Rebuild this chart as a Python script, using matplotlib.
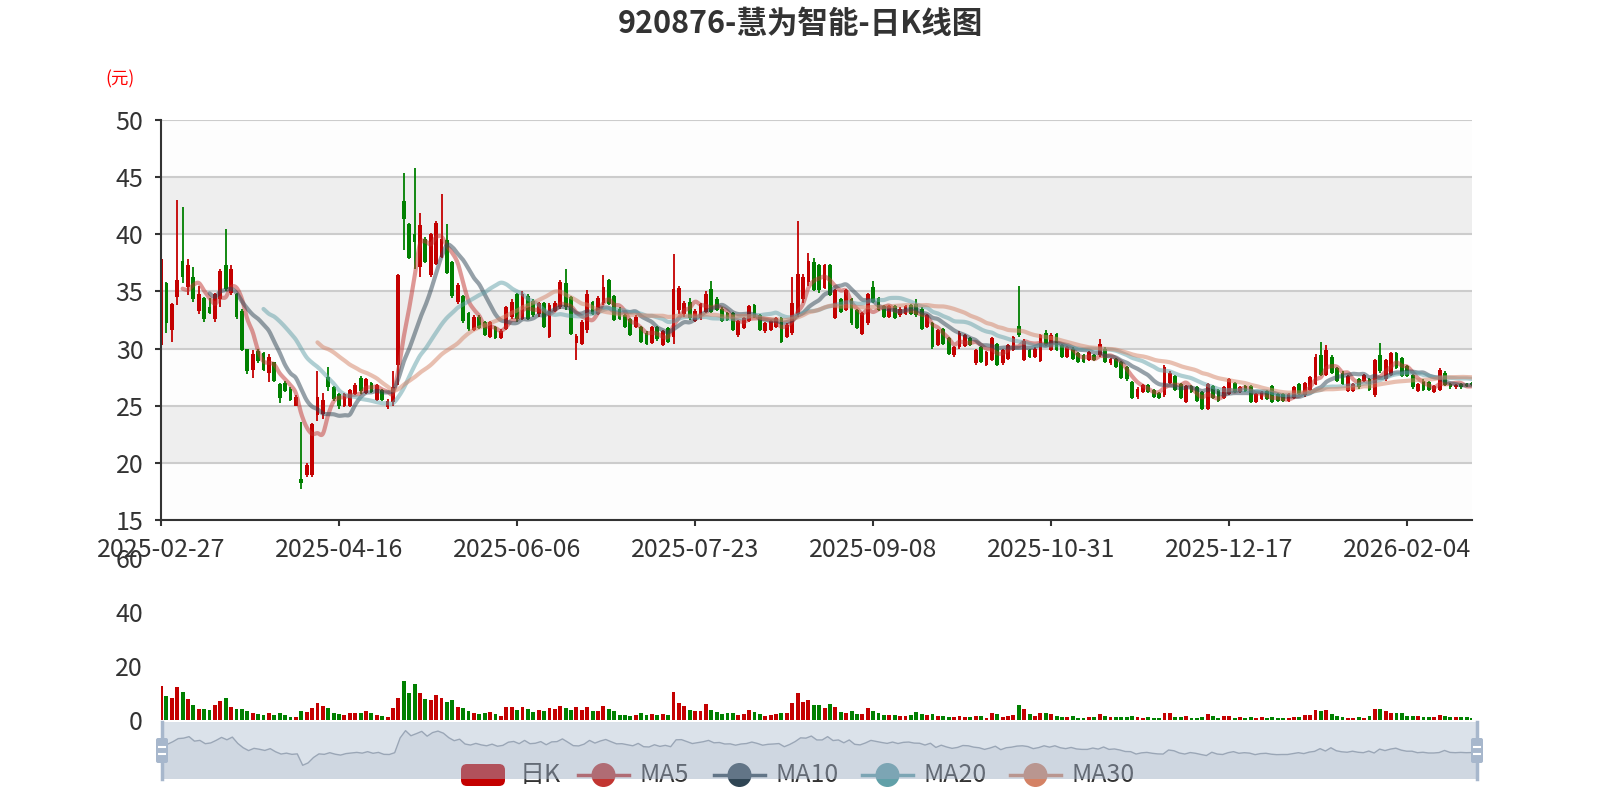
import numpy as np
import pandas as pd
import matplotlib
matplotlib.use('Agg')
import matplotlib.pyplot as plt
from matplotlib.patches import FancyBboxPatch, Circle

plt.rcParams['font.family'] = ['Noto Sans CJK SC', 'DejaVu Sans']

title = '920876-慧为智能-日K线图'

# exchange holidays falling on weekdays (used to build the trading-day axis)
holidays = ['2025-04-04', '2025-05-01', '2025-05-02', '2025-05-05', '2025-06-02',
            '2025-10-01', '2025-10-02', '2025-10-03', '2025-10-06', '2025-10-07',
            '2025-10-08', '2026-01-01', '2026-01-02', '2026-02-16', '2026-02-17',
            '2026-02-18', '2026-02-19', '2026-02-20', '2026-02-23']

opens = [30.3, 35.7, 31.6, 34.5, 37.7, 35.4, 36.3, 33.3, 34.4, 33.6, 32.6, 34.3, 37.3, 34.9, 34.8, 33.3, 30.0, 28.1, 29.8, 29.6,
         27.9, 28.8, 26.9, 27.0, 26.5, 25.0, 18.6, 18.9, 18.9, 24.2, 24.3, 27.5, 26.6, 26.0, 25.0, 25.0, 26.0, 27.4, 26.1, 27.0,
         25.5, 26.4, 24.9, 25.3, 28.6, 42.9, 40.9, 40.0, 37.1, 39.6, 36.4, 37.4, 38.0, 39.5, 37.6, 34.1, 34.6, 33.1, 31.6, 32.8,
         32.3, 31.0, 31.9, 30.9, 31.7, 32.8, 34.8, 32.6, 34.6, 34.2, 33.0, 34.0, 31.0, 33.3, 33.6, 35.7, 34.5, 30.5, 30.4, 31.6,
         34.1, 33.0, 34.0, 36.0, 34.6, 33.5, 32.9, 32.6, 31.9, 31.9, 31.4, 30.5, 31.9, 30.3, 31.8, 31.0, 33.4, 33.0, 34.1, 32.4,
         32.7, 33.2, 35.2, 34.3, 33.5, 33.1, 33.1, 31.2, 31.8, 32.4, 33.8, 32.9, 31.5, 31.6, 31.9, 32.7, 31.0, 31.4, 33.0, 34.3,
         35.8, 37.6, 37.3, 35.3, 37.3, 32.7, 34.3, 33.4, 34.3, 33.4, 31.3, 32.2, 35.4, 34.4, 33.7, 32.8, 33.7, 32.9, 33.0, 33.8,
         33.9, 33.5, 31.9, 32.2, 30.3, 31.7, 30.9, 29.4, 30.1, 30.2, 30.9, 28.7, 30.1, 28.6, 29.0, 30.4, 28.7, 29.1, 29.9, 32.0,
         29.0, 29.9, 29.3, 28.9, 31.4, 29.9, 31.3, 30.3, 29.3, 30.0, 29.6, 29.4, 29.0, 29.4, 29.4, 30.0, 28.7, 29.1, 28.8, 28.4,
         27.1, 25.8, 26.2, 26.8, 26.4, 26.1, 25.9, 27.0, 27.6, 26.9, 25.3, 26.7, 26.6, 26.2, 24.7, 26.7, 26.4, 25.7, 26.0, 27.0,
         26.2, 26.7, 26.7, 25.3, 25.6, 26.3, 26.7, 26.0, 26.0, 25.4, 25.7, 26.9, 25.9, 26.4, 26.9, 29.4, 27.7, 29.3, 28.3, 27.9,
         26.3, 26.3, 27.3, 27.2, 27.3, 25.9, 29.4, 27.3, 27.7, 29.6, 29.2, 28.5, 27.7, 26.3, 27.2, 27.1, 26.2, 26.4, 27.9, 26.9,
         26.6, 26.9, 26.9, 27.0]
closes = [37.8, 32.2, 33.9, 36.0, 36.3, 37.3, 34.3, 34.8, 32.6, 33.1, 34.8, 36.8, 35.2, 37.0, 32.8, 29.9, 28.0, 29.5, 28.9, 28.1,
          29.3, 27.2, 25.7, 26.3, 25.5, 25.8, 18.2, 19.8, 23.4, 25.8, 25.5, 26.6, 25.6, 25.0, 26.0, 26.4, 26.8, 26.3, 27.3, 26.2,
          26.8, 25.5, 25.4, 26.6, 36.4, 41.3, 37.9, 39.3, 40.8, 37.6, 40.0, 41.0, 39.6, 36.6, 34.6, 35.6, 32.4, 31.7, 32.8, 31.8,
          31.2, 32.3, 30.9, 31.5, 33.6, 34.1, 32.6, 34.8, 32.6, 32.9, 34.0, 31.9, 33.8, 34.0, 35.8, 33.6, 31.3, 31.1, 32.3, 34.8,
          33.0, 34.4, 35.4, 33.9, 32.5, 32.6, 31.9, 31.2, 32.8, 30.6, 30.4, 31.9, 30.8, 31.5, 30.6, 35.2, 35.3, 34.0, 32.7, 33.3,
          33.9, 34.8, 33.2, 33.4, 32.4, 32.5, 31.6, 32.4, 32.7, 33.7, 32.8, 31.6, 32.2, 32.4, 32.7, 30.6, 32.1, 34.0, 36.5, 36.3,
          37.7, 35.1, 35.1, 37.3, 34.7, 35.1, 33.2, 35.1, 32.2, 31.8, 33.1, 34.8, 34.1, 33.4, 32.8, 33.7, 32.7, 33.5, 33.7, 33.0,
          32.9, 31.7, 32.9, 30.1, 31.6, 30.4, 29.5, 30.1, 31.4, 31.2, 30.3, 29.9, 28.8, 29.7, 30.9, 28.6, 29.9, 30.3, 31.0, 31.2,
          30.7, 29.3, 30.0, 31.2, 30.3, 31.2, 29.9, 29.3, 30.1, 29.1, 28.8, 28.8, 29.7, 29.0, 30.4, 28.8, 29.1, 28.4, 27.4, 27.3,
          25.7, 26.5, 26.8, 26.2, 25.8, 25.7, 28.4, 27.9, 26.4, 25.7, 26.7, 26.2, 25.4, 24.7, 26.9, 25.7, 25.4, 26.6, 27.3, 26.2,
          26.6, 26.3, 25.3, 26.0, 26.2, 25.6, 25.3, 25.4, 25.4, 26.0, 26.6, 26.0, 27.0, 27.5, 29.3, 27.7, 29.9, 27.9, 27.2, 26.9,
          27.6, 26.9, 26.6, 27.7, 26.4, 29.0, 28.0, 29.0, 29.6, 28.3, 27.6, 27.6, 26.6, 26.9, 26.4, 26.4, 26.7, 28.1, 26.8, 26.6,
          26.8, 26.6, 26.7, 26.8]
highs = [40.0, 35.8, 34.0, 43.0, 42.4, 37.8, 37.1, 35.5, 34.5, 34.4, 34.9, 37.0, 40.5, 37.3, 34.9, 33.5, 30.0, 29.9, 30.0, 29.7,
         29.5, 28.8, 27.0, 27.2, 26.6, 25.9, 23.6, 20.0, 23.5, 28.0, 26.1, 28.4, 26.7, 26.1, 26.1, 26.5, 27.0, 27.6, 27.4, 27.1,
         26.9, 26.5, 25.6, 28.0, 36.5, 45.4, 41.0, 45.8, 41.9, 39.8, 40.1, 41.2, 43.5, 40.9, 37.7, 35.7, 34.7, 33.2, 32.9, 32.9,
         32.4, 32.4, 32.0, 31.7, 33.7, 34.3, 34.9, 35.0, 34.8, 34.3, 34.1, 34.1, 34.0, 34.2, 36.0, 37.0, 34.6, 31.3, 32.5, 35.1,
         34.2, 34.6, 36.4, 36.1, 34.7, 33.6, 33.0, 32.7, 32.9, 32.0, 31.5, 32.0, 32.0, 31.6, 31.9, 38.3, 35.5, 34.2, 34.4, 33.5,
         34.0, 35.0, 35.9, 34.5, 33.6, 33.2, 33.2, 32.5, 32.8, 33.8, 33.9, 33.0, 32.3, 32.5, 32.8, 32.8, 32.2, 36.3, 41.2, 36.5,
         38.4, 37.9, 37.4, 37.4, 37.4, 35.2, 34.4, 35.2, 34.4, 33.5, 33.2, 34.9, 35.9, 34.5, 33.8, 33.8, 33.8, 33.6, 33.8, 33.9,
         34.3, 33.6, 33.0, 32.3, 31.7, 31.8, 31.0, 30.2, 31.5, 31.3, 31.0, 30.0, 30.2, 29.8, 31.0, 30.5, 30.0, 30.4, 31.1, 35.5,
         30.8, 30.0, 30.1, 31.3, 31.6, 31.4, 31.4, 30.4, 30.2, 30.1, 29.7, 29.5, 29.8, 29.5, 30.8, 30.1, 29.2, 29.2, 28.9, 28.5,
         27.2, 26.6, 26.9, 26.9, 26.5, 26.2, 28.6, 28.0, 27.7, 27.0, 26.8, 26.8, 26.7, 26.3, 27.0, 26.8, 26.5, 26.7, 27.4, 27.1,
         26.7, 26.8, 26.8, 26.1, 26.3, 26.4, 26.8, 26.1, 26.1, 26.1, 26.7, 27.0, 27.1, 27.6, 29.5, 30.6, 30.3, 29.4, 28.4, 28.0,
         27.7, 27.0, 27.4, 27.8, 27.4, 29.1, 30.5, 29.1, 29.7, 29.7, 29.3, 28.6, 27.8, 27.0, 27.3, 27.2, 26.8, 28.3, 28.0, 27.0,
         26.9, 27.0, 27.0, 27.1]
lows = [30.0, 31.4, 30.6, 33.8, 35.7, 34.7, 34.1, 33.0, 32.3, 33.0, 32.3, 33.6, 35.0, 34.7, 32.6, 29.8, 27.8, 27.4, 28.7, 28.0,
        27.1, 27.1, 25.2, 26.2, 25.4, 25.0, 17.7, 18.8, 18.8, 23.7, 23.8, 26.3, 25.4, 24.7, 24.9, 24.9, 25.9, 26.0, 26.0, 26.1,
        25.4, 25.4, 24.7, 25.0, 26.8, 38.6, 37.8, 37.0, 36.3, 37.5, 36.3, 37.3, 37.9, 36.5, 34.4, 33.9, 32.2, 31.5, 31.5, 31.7,
        31.1, 30.9, 30.8, 30.8, 31.6, 32.6, 32.3, 32.5, 32.5, 32.8, 32.8, 31.8, 30.9, 33.2, 33.5, 33.4, 31.2, 29.0, 30.3, 31.4,
        32.9, 32.9, 33.8, 33.8, 32.4, 32.5, 31.8, 31.1, 31.8, 30.5, 30.3, 30.4, 30.7, 30.2, 30.5, 30.4, 33.0, 32.8, 32.5, 32.3,
        32.5, 33.1, 33.1, 33.3, 32.3, 32.4, 31.5, 31.0, 31.7, 32.3, 32.7, 31.5, 31.4, 31.5, 31.8, 30.5, 30.9, 31.2, 32.8, 34.0,
        35.5, 35.0, 34.9, 35.2, 34.6, 32.6, 33.1, 33.3, 32.1, 31.7, 31.2, 32.1, 34.0, 33.3, 32.7, 32.7, 32.6, 32.8, 32.9, 32.9,
        32.8, 31.6, 31.8, 30.0, 30.2, 30.3, 29.4, 29.3, 30.0, 30.1, 30.2, 28.6, 28.7, 28.5, 28.9, 28.5, 28.6, 29.0, 29.8, 31.0,
        28.9, 29.2, 29.2, 28.8, 30.2, 29.8, 29.8, 29.2, 29.2, 29.0, 28.7, 28.7, 28.9, 28.9, 29.3, 28.7, 28.6, 28.3, 27.3, 27.2,
        25.6, 25.6, 26.1, 26.1, 25.7, 25.6, 25.8, 26.9, 26.3, 25.6, 25.2, 26.1, 25.3, 24.6, 24.6, 25.6, 25.3, 25.6, 25.9, 26.1,
        26.1, 26.2, 25.2, 25.2, 25.5, 25.5, 25.2, 25.3, 25.3, 25.3, 25.6, 25.9, 25.8, 26.3, 26.8, 27.6, 27.6, 27.8, 27.1, 26.8,
        26.2, 26.2, 26.5, 27.1, 26.3, 25.8, 27.9, 27.2, 27.6, 28.2, 27.5, 27.5, 26.5, 26.2, 26.3, 26.3, 26.1, 26.3, 26.7, 26.5,
        26.5, 26.5, 26.6, 26.7]
volumes = [12.6, 8.6, 8.0, 11.9, 10.4, 7.5, 5.4, 4.0, 3.8, 3.6, 5.4, 6.8, 7.9, 4.7, 3.8, 4.0, 3.0, 2.5, 1.9, 1.8,
           2.4, 1.6, 2.4, 1.8, 1.1, 1.1, 3.2, 2.8, 4.1, 6.1, 5.1, 4.4, 2.5, 2.0, 1.6, 2.4, 2.6, 2.4, 3.1, 2.3,
           1.8, 1.4, 1.1, 4.2, 8.0, 14.3, 9.7, 13.3, 9.7, 7.8, 7.2, 9.2, 8.0, 6.6, 7.4, 4.7, 4.4, 3.0, 2.5, 2.2,
           2.4, 2.8, 2.2, 1.4, 4.6, 4.6, 3.5, 4.6, 3.8, 2.8, 3.5, 3.2, 4.2, 3.8, 4.9, 4.4, 3.6, 4.6, 3.4, 4.8,
           3.2, 3.2, 5.0, 4.0, 3.0, 1.8, 1.8, 1.2, 1.8, 2.4, 1.8, 2.0, 1.6, 2.0, 1.6, 10.1, 6.2, 5.0, 3.6, 3.0,
           3.2, 5.7, 3.6, 2.9, 2.2, 2.4, 2.4, 1.6, 2.0, 3.6, 2.9, 2.0, 1.4, 1.7, 2.2, 2.5, 2.5, 6.3, 9.9, 6.5,
           7.2, 5.4, 5.4, 4.2, 5.7, 4.7, 2.9, 2.6, 3.0, 2.2, 2.2, 4.4, 3.1, 2.3, 1.7, 1.8, 1.8, 1.4, 1.4, 1.7,
           2.8, 1.9, 1.6, 2.2, 1.2, 1.2, 1.1, 1.0, 1.3, 1.1, 0.8, 1.2, 1.2, 0.7, 2.4, 2.2, 1.1, 1.4, 1.6, 5.4,
           4.0, 2.2, 1.4, 2.5, 2.5, 2.2, 1.3, 1.1, 1.1, 1.2, 0.7, 0.6, 1.0, 0.8, 2.2, 1.3, 0.8, 1.1, 1.1, 0.8,
           1.3, 1.0, 0.7, 1.0, 0.6, 0.6, 2.4, 2.4, 1.1, 1.0, 1.2, 0.7, 0.7, 1.0, 2.0, 1.2, 0.6, 1.2, 1.2, 0.7,
           0.8, 0.7, 1.0, 0.6, 0.8, 0.7, 0.8, 0.7, 0.7, 0.7, 1.0, 1.0, 1.6, 1.6, 3.6, 3.0, 3.5, 2.0, 1.2, 0.8,
           0.7, 0.7, 1.1, 0.7, 1.2, 3.8, 4.0, 3.0, 2.5, 2.5, 2.3, 1.2, 1.4, 1.2, 1.0, 0.8, 1.0, 1.8, 1.3, 1.1,
           0.8, 1.0, 0.8, 0.7]

ma_windows = [5, 10, 20, 30]
ma_names = ['MA5', 'MA10', 'MA20', 'MA30']
ma_colors = ['#c23531', '#2f4554', '#61a0a8', '#d48265']

up_color = '#c40000'
down_color = '#008000'

n = len(closes)
o = np.array(opens)
c = np.array(closes)
h = np.array(highs)
l = np.array(lows)
x = np.arange(n)


def smooth_line(xs, ys, steps=8):
    # Catmull-Rom pass through the points, like a smoothed line series
    xs = np.asarray(xs, float)
    ys = np.asarray(ys, float)
    px = np.concatenate([[xs[0]], xs, [xs[-1]]])
    py = np.concatenate([[ys[0]], ys, [ys[-1]]])
    out_x, out_y = [], []
    t = np.linspace(0, 1, steps, endpoint=False)
    for i in range(1, len(px) - 2):
        for arr, out in ((px, out_x), (py, out_y)):
            p0, p1, p2, p3 = arr[i - 1], arr[i], arr[i + 1], arr[i + 2]
            out.extend(0.5 * (2 * p1 + (-p0 + p2) * t + (2 * p0 - 5 * p1 + 4 * p2 - p3) * t ** 2
                              + (-p0 + 3 * p1 - 3 * p2 + p3) * t ** 3))
    out_x.append(xs[-1])
    out_y.append(ys[-1])
    return np.array(out_x), np.array(out_y)


# trading-day categories
days = [d for d in pd.bdate_range('2025-02-27', periods=300)
        if d.strftime('%Y-%m-%d') not in holidays][:n]
dates = [d.strftime('%Y-%m-%d') for d in days]
tick_idx = list(range(0, n - 1, 33))

fig = plt.figure(figsize=(16, 8), dpi=100)
fig.patch.set_facecolor('white')

# ---- main K-line panel
ax = fig.add_axes([161 / 1600, 1 - 520 / 800, 1311 / 1600, 400 / 800])
ax.set_xlim(0, n - 1)
ax.set_ylim(15, 50)
yt = np.arange(15, 51, 5)
for k in range(len(yt) - 1):
    ax.axhspan(yt[k], yt[k + 1], color='#fdfdfd' if k % 2 == 0 else '#eeeeee', lw=0, zorder=0)
for v in yt:
    ax.axhline(v, color='#cccccc', lw=1.5, zorder=1)

is_up = c >= o
cols = np.where(is_up, up_color, down_color)
ax.vlines(x, l, h, colors=cols, lw=1.3, zorder=3)
ax.bar(x, np.maximum(np.abs(c - o), 0.1), width=0.7, bottom=np.minimum(o, c),
       color=cols, lw=0, zorder=4)

close_s = pd.Series(closes)
for w, name, col in zip(ma_windows, ma_names, ma_colors):
    ma = close_s.rolling(w).mean()
    ok = ma.notna().values
    sx, sy = smooth_line(x[ok], ma.values[ok])
    ax.plot(sx, sy, color=col, lw=3, alpha=0.5, zorder=5, solid_capstyle='round')

ax.set_yticks(yt)
ax.set_xticks(tick_idx)
ax.set_xticklabels([dates[i] for i in tick_idx])
for s in ['top', 'right']:
    ax.spines[s].set_visible(False)
for s in ['left', 'bottom']:
    ax.spines[s].set_color('#333333')
    ax.spines[s].set_linewidth(1.5)
    ax.spines[s].set_zorder(6)
ax.tick_params(axis='both', length=4.5, width=1.5, color='#333333', labelcolor='#333333',
               labelsize=18, pad=8)

# ---- volume panel
vax = fig.add_axes([161 / 1600, 1 - 719.5 / 800, 1311 / 1600, 161.5 / 800])
vax.set_xlim(0, n - 1)
vax.set_ylim(0, 60)
vax.bar(x, volumes, width=0.72, color=cols, lw=0)
vax.set_yticks([0, 20, 40, 60])
vax.set_xticks([])
for s in vax.spines.values():
    s.set_visible(False)
vax.patch.set_alpha(0)
vax.tick_params(axis='y', length=0, labelcolor='#333333', labelsize=18, pad=13)

# ---- texts
fig.text(0.5, 1 - 24 / 800, title, ha='center', va='center', fontsize=22,
         fontweight='bold', color='#333333')
fig.text(120 / 1600, 1 - 79 / 800, '(元)', ha='center', va='center', fontsize=12.5, color='red')

# ---- legend (drawn under the slider, in pixel coordinates)
lg = fig.add_axes([0, 0, 1, 1])
lg.set_xlim(0, 1600)
lg.set_ylim(800, 0)
lg.axis('off')
lg.patch.set_alpha(0)
ly = 775
lg.add_patch(FancyBboxPatch((461, 764), 44, 22, boxstyle='round,pad=0,rounding_size=6',
                            color=up_color, lw=0))
lg.text(520, ly, '日K', va='center', ha='left', fontsize=18, color='#333333')
icon_x = [578, 714, 862, 1010]
for x0, name, col in zip(icon_x, ma_names, ma_colors):
    lg.plot([x0, x0 + 51], [ly, ly], color=col, lw=2.5)
    lg.add_patch(Circle((x0 + 25.5, ly), 12, color=col, lw=0))
    lg.text(x0 + 62, ly, name, va='center', ha='left', fontsize=18, color='#333333')

# ---- data zoom slider
sl = fig.add_axes([162 / 1600, 1 - 778.5 / 800, 1315 / 1600, 57 / 800])
sl.set_xlim(0, n - 1)
sl.set_ylim(9.4, 47.4)
sl.set_facecolor((167 / 255, 183 / 255, 204 / 255, 0.4))
sl.fill_between(x, closes, 9.4, color='#7f8fa6', alpha=0.12, lw=0)
sl.plot(x, closes, color='#9aa6b6', lw=1)
sl.set_xticks([])
sl.set_yticks([])
for s in sl.spines.values():
    s.set_visible(False)

hd = fig.add_axes([0, 0, 1, 1])
hd.set_xlim(0, 1600)
hd.set_ylim(800, 0)
hd.axis('off')
hd.patch.set_alpha(0)
for hx in [162, 1477]:
    hd.plot([hx, hx], [721.5, 778.5], color='#a7b7cc', lw=2.5)
    hd.add_patch(FancyBboxPatch((hx - 6, 738), 12, 25, boxstyle='round,pad=0,rounding_size=2',
                                color='#a7b7cc', lw=0))
    for yy in [747, 754]:
        hd.plot([hx - 3, hx + 3], [yy, yy], color='white', lw=1.5)

fig.savefig('out.png', dpi=100)
